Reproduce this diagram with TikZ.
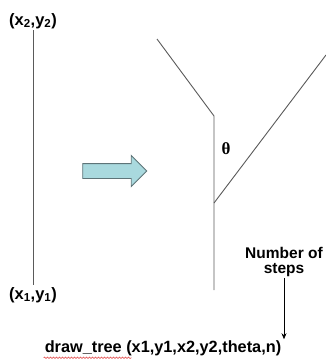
\documentclass[tikz,border=0pt]{standalone}
\usepackage{fontspec}
\setmainfont{Liberation Sans}
\newfontfamily\thetafont{Liberation Serif}
\usetikzlibrary{shapes.arrows, arrows.meta, positioning, decorations.pathmorphing}
\definecolor{lineGray}{HTML}{5A5A5A}
\definecolor{arrowCyan}{HTML}{A9D9DE}
\definecolor{arrowBorder}{HTML}{5E7478}
\definecolor{spellRed}{HTML}{E04040}

\begin{document}
\begin{tikzpicture}[
    x=1pt, y=-1pt,
    font=\bfseries,
    % Coordinate labels
    coordlabel/.style={
        font=\fontsize{16.5}{18}\selectfont\bfseries,
        inner sep=1pt
    },
    % Segment lines
    segline/.style={
        draw=lineGray,
        line width=0.9pt
    },
    % Big block arrow
    blockarrow/.style={
        single arrow,
        draw=arrowBorder,
        fill=arrowCyan,
        line width=0.9pt,
        inner sep=7pt,
        minimum height=64pt,
        single arrow head extend=8pt
    },
    % Annotation text
    note/.style={
        font=\fontsize{15.5}{15}\selectfont\bfseries,
        align=center,
        inner sep=1pt
    },
    % Pointer arrow
    pointer/.style={
        draw=black,
        line width=0.7pt,
        -{Stealth[length=6pt, width=5pt]}
    }
]
\useasboundingbox (0,0) rectangle (326,360);

% --- LEFT: SINGLE SEGMENT ---
\coordinate (P2) at (33,30);
\coordinate (P1) at (33,285);
\draw[segline] (P2) -- (P1);
\node[coordlabel, above=0pt of P2] (TopLabel) {(x\textsubscript{2},y\textsubscript{2})};
\node[coordlabel, below=1pt of P1] (BottomLabel) {(x\textsubscript{1},y\textsubscript{1})};

% --- MIDDLE: BLOCK ARROW ---
\node[blockarrow] (Step) at (111,171) {};

% --- RIGHT: TREE ---
\coordinate (TrunkBase) at (214,290);
\coordinate (ForkLow) at (214,203);
\coordinate (ForkHigh) at (214,116);
\coordinate (LeftTip) at (157,39);
\coordinate (RightTip) at (326,55);
\draw[segline] (TrunkBase) -- (ForkLow) -- (ForkHigh) -- (LeftTip);
\draw[segline] (ForkLow) -- (RightTip);
\node[font=\fontsize{17}{18}\selectfont\thetafont\bfseries] (Theta) at (226,149) {θ};

% --- FUNCTION CALL ---
\node[font=\fontsize{16.3}{18}\selectfont\bfseries, inner sep=1pt] (Call) at (163,348) {draw\_tree (x1,y1,x2,y2,theta,n)};
\draw[spellRed, line width=0.5pt, decorate, decoration={snake, amplitude=0.8pt, segment length=3pt}]
    ([yshift=-1pt]Call.south west) -- ++(88,0);

% --- NUMBER OF STEPS ---
\node[note] (Steps) at (284,262) {Number of\\steps};
\draw[pointer] (Steps.south) -- (Steps.south |- Call.north);

\end{tikzpicture}
\end{document}
